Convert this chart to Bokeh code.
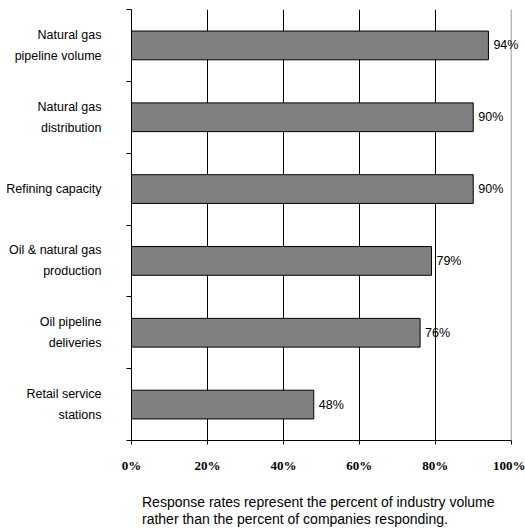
from bokeh.plotting import figure
from bokeh.models import ColumnDataSource, Range1d, FixedTicker, LabelSet, Span, Div
from bokeh.core.properties import value
from bokeh.layouts import column
from bokeh.embed import file_html
from bokeh.resources import INLINE

# Data (top to bottom in the chart)
categories = ["Natural gas\npipeline volume", "Natural gas\ndistribution", "Refining capacity",
              "Oil & natural gas\nproduction", "Oil pipeline\ndeliveries", "Retail service\nstations"]
rates = [94, 90, 90, 79, 76, 48]
x_ticks = [0, 20, 40, 60, 80, 100]
note_lines = ["Response rates represent the percent of industry volume",
              "rather than the percent of companies responding."]

n = len(categories)
ypos = [n - 0.5 - i for i in range(n)]
src = ColumnDataSource(dict(y=ypos, rate=rates, label=[f"{r}%" for r in rates]))

p = figure(width=525, height=480, output_backend="svg", toolbar_location=None,
           x_range=Range1d(0, 103.5), y_range=Range1d(0, n),
           min_border_left=131, min_border_right=1, min_border_top=9, min_border_bottom=40)
p.outline_line_color = None
p.background_fill_color = "white"

# grid
p.ygrid.grid_line_color = None
p.xgrid.ticker = FixedTicker(ticks=[20, 40, 60, 80])
p.xgrid.grid_line_color = "black"
p.xgrid.grid_line_width = 1
p.add_layout(Span(location=100, dimension="height", line_color="#999999", line_width=1))

# bars
p.hbar(y="y", right="rate", left=0, height=0.4, source=src,
       fill_color="#808080", line_color="black", line_width=1)

# value labels
p.add_layout(LabelSet(x="rate", y="y", text="label", source=src, x_offset=5,
                      text_baseline="middle", text_align="left",
                      text_font=value("Liberation Sans"), text_font_size=value("12.5px"),
                      text_color="black"))

# x axis
xa = p.xaxis[0]
xa.ticker = FixedTicker(ticks=x_ticks)
xa.major_label_overrides = {t: f"{t}%" for t in x_ticks}
xa.bounds = (0, 100)
xa.major_tick_out = 4
xa.major_tick_in = 0
xa.minor_tick_line_color = None
xa.axis_line_color = "black"
xa.major_tick_line_color = "black"
xa.major_label_text_font = "Liberation Serif"
xa.major_label_text_font_style = "bold"
xa.major_label_text_font_size = "13px"
xa.major_label_text_color = "black"
xa.major_label_standoff = 13

# y axis: category labels at centres, ticks at category boundaries
ya = p.yaxis[0]
ya.ticker = FixedTicker(ticks=ypos, minor_ticks=list(range(n + 1)))
ya.major_label_overrides = {yv: c for yv, c in zip(ypos, categories)}
ya.major_tick_out = 0
ya.major_tick_in = 0
ya.major_tick_line_color = None
ya.minor_tick_out = 5
ya.minor_tick_in = 0
ya.minor_tick_line_color = "black"
ya.axis_line_color = "black"
ya.major_label_standoff = 25
ya.major_label_text_align = "center"
ya.major_label_text_font = "Liberation Sans"
ya.major_label_text_font_size = "12.5px"
ya.major_label_text_color = "black"
ya.major_label_text_line_height = 1.5

note = Div(text="<br>".join(note_lines), width=420,
           margin=(14, 0, 0, 142),
           styles={"font-family": "Liberation Sans", "font-size": "14px",
                   "line-height": "17px", "color": "black"})

layout = column(p, note, spacing=0)
open("out.html", "w").write(file_html(layout, INLINE))
